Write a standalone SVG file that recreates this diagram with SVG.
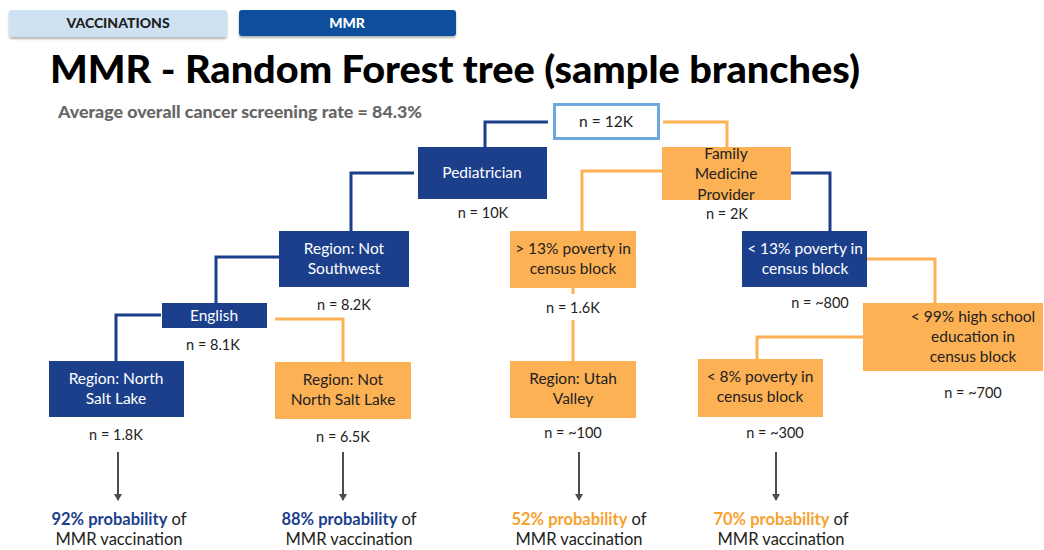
<svg xmlns="http://www.w3.org/2000/svg" width="1044" height="550" viewBox="0 0 1044 550">
<style>
text{font-family:Lato,"Open Sans","Liberation Sans",sans-serif;}
.tab{font-size:14px;font-weight:900;text-anchor:middle;}
.blue{fill:#1c3f8c;}
.org{fill:#fdb155;}
.wt{fill:#ffffff;font-size:15.5px;text-anchor:middle;}
.dt{fill:#222222;font-size:15.5px;text-anchor:middle;}
.n{fill:#222222;font-size:14.5px;text-anchor:middle;}
.lb{fill:none;stroke:#1c3f8c;stroke-width:3;}
.lo{fill:none;stroke:#fdb155;stroke-width:3;}
.ar{stroke:#4d4d46;stroke-width:2;marker-end:url(#ah);}
.res{font-size:16.5px;fill:#222;text-anchor:middle;}
</style>
<defs>
<marker id="ah" markerWidth="8" markerHeight="8" refX="6" refY="4" orient="auto" markerUnits="userSpaceOnUse"><path d="M0,0 L7,4 L0,8 Z" fill="#4d4d46"/></marker>
<filter id="sh" x="-5%" y="-20%" width="110%" height="150%"><feDropShadow dx="0" dy="2" stdDeviation="1.2" flood-color="#000" flood-opacity="0.3"/></filter>
</defs>
<rect width="1044" height="550" fill="#ffffff"/>
<g id="tabs">
<rect x="9" y="10" width="218" height="27" rx="3" fill="#cfe2f3" filter="url(#sh)"/>
<text class="tab" x="118" y="28" fill="#222">VACCINATIONS</text>
<rect x="239" y="10" width="217" height="26" rx="3" fill="#0b4f9c" filter="url(#sh)"/>
<text class="tab" x="347" y="28" fill="#ffffff">MMR</text>
</g>
<text x="50" y="83" font-size="38" font-weight="900" fill="#000" textLength="810" lengthAdjust="spacingAndGlyphs">MMR - Random Forest tree (sample branches)</text>
<text x="58" y="118" font-size="16" font-weight="900" fill="#666" textLength="364" lengthAdjust="spacingAndGlyphs">Average overall cancer screening rate = 84.3%</text>
<g id="connectors">
<path class="lb" d="M548,122 H485 V147"/>
<path class="lo" d="M663,122 H727 V147"/>
<path class="lb" d="M414,173 H351 V231"/>
<path class="lo" d="M662,171 H582 V231"/>
<path class="lb" d="M791,173 H830 V231"/>
<path class="lb" d="M279,257 H216 V303"/>
<path class="lb" d="M161,315 H116 V361"/>
<path class="lo" d="M275,319 H343 V362"/>
<path class="lo" d="M573,288 V294 M573,320 V361"/>
<path class="lo" d="M867,259 H935 V303"/>
<path class="lo" d="M863,337 H757 V359"/>
<line class="ar" x1="118" y1="452" x2="118" y2="500"/>
<line class="ar" x1="343" y1="452" x2="343" y2="500"/>
<line class="ar" x1="579" y1="452" x2="579" y2="500"/>
<line class="ar" x1="776" y1="452" x2="776" y2="500"/>
</g>
<g id="root">
<rect x="554.5" y="104.5" width="104" height="34" fill="#fff" stroke="#6fa8dc" stroke-width="3"/>
<text class="dt" x="606" y="127">n = 12K</text>
</g>
<g id="pediatrician">
<rect class="blue" x="418" y="147" width="129" height="52"/>
<text class="wt" x="482" y="178">Pediatrician</text>
<text class="n" x="483" y="218">n = 10K</text>
</g>
<g id="family">
<rect class="org" x="662" y="147" width="129" height="53"/>
<text class="dt" x="726" y="159">Family</text>
<text class="dt" x="726" y="179">Medicine</text>
<text class="dt" x="726" y="200">Provider</text>
<text class="n" x="727" y="219">n = 2K</text>
</g>
<g id="notsouthwest">
<rect class="blue" x="279" y="231" width="130" height="56"/>
<text class="wt" x="344" y="254">Region: Not</text>
<text class="wt" x="344" y="274">Southwest</text>
<text class="n" x="344" y="310">n = 8.2K</text>
</g>
<g id="english">
<rect class="blue" x="162" y="303" width="105" height="25"/>
<text class="wt" x="214" y="321">English</text>
<text class="n" x="213" y="350">n = 8.1K</text>
</g>
<g id="northsaltlake">
<rect class="blue" x="49" y="361" width="135" height="56"/>
<text class="wt" x="116" y="384">Region: North</text>
<text class="wt" x="116" y="404">Salt Lake</text>
<text class="n" x="116" y="440">n = 1.8K</text>
</g>
<g id="notnorthsaltlake">
<rect class="org" x="275" y="362" width="136" height="57"/>
<text class="dt" x="343" y="385">Region: Not</text>
<text class="dt" x="343" y="405">North Salt Lake</text>
<text class="n" x="343" y="442">n = 6.5K</text>
</g>
<g id="poverty13gt">
<rect class="org" x="510" y="231" width="126" height="57"/>
<text class="dt" x="573" y="254">&gt; 13% poverty in</text>
<text class="dt" x="573" y="274">census block</text>
<text class="n" x="573" y="313">n = 1.6K</text>
</g>
<g id="utahvalley">
<rect class="org" x="510" y="361" width="126" height="57"/>
<text class="dt" x="573" y="384">Region: Utah</text>
<text class="dt" x="573" y="404">Valley</text>
<text class="n" x="573" y="438">n = ~100</text>
</g>
<g id="poverty13lt">
<rect class="blue" x="742" y="231" width="125" height="56"/>
<text class="wt" x="805" y="254">&lt; 13% poverty in</text>
<text class="wt" x="805" y="274">census block</text>
<text class="n" x="820" y="308">n = ~800</text>
</g>
<g id="highschool">
<rect class="org" x="863" y="303" width="180" height="68"/>
<text class="dt" x="973" y="322">&lt; 99% high school</text>
<text class="dt" x="973" y="342">education in</text>
<text class="dt" x="973" y="362">census block</text>
<text class="n" x="973" y="398">n = ~700</text>
</g>
<g id="poverty8">
<rect class="org" x="698" y="359" width="125" height="58"/>
<text class="dt" x="760" y="382">&lt; 8% poverty in</text>
<text class="dt" x="760" y="402">census block</text>
<text class="n" x="775" y="438">n = ~300</text>
</g>
<g id="results">
<text class="res" x="119" y="525"><tspan font-weight="700" fill="#1c3f8c">92% probability</tspan> of</text>
<text class="res" x="119" y="545">MMR vaccination</text>
<text class="res" x="349" y="525"><tspan font-weight="700" fill="#1c3f8c">88% probability</tspan> of</text>
<text class="res" x="349" y="545">MMR vaccination</text>
<text class="res" x="579" y="525"><tspan font-weight="700" fill="#f7a22e">52% probability</tspan> of</text>
<text class="res" x="579" y="545">MMR vaccination</text>
<text class="res" x="781" y="525"><tspan font-weight="700" fill="#f7a22e">70% probability</tspan> of</text>
<text class="res" x="781" y="545">MMR vaccination</text>
</g>
</svg>
